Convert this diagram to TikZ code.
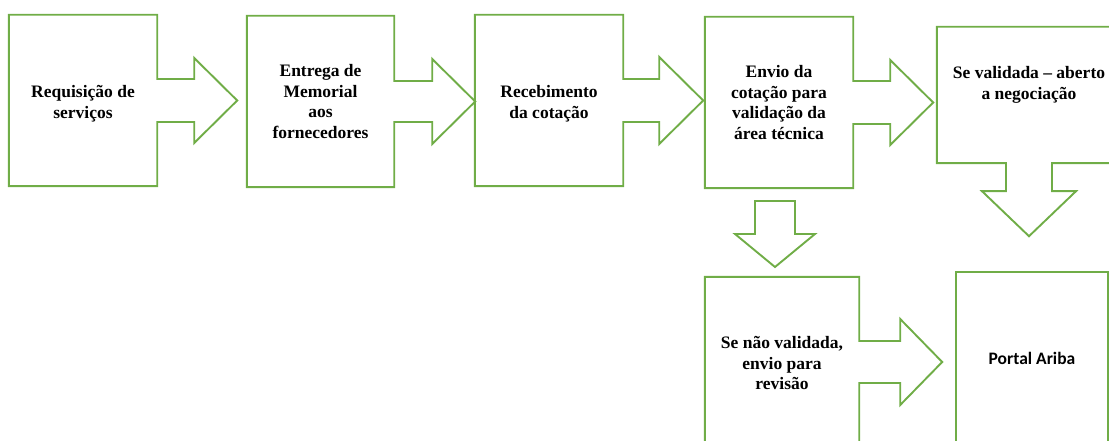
\documentclass[tikz,border=0pt]{standalone}
\usepackage{fontspec}
\setmainfont{Liberation Serif}
\newfontfamily\portalfont{Carlito}
\usepackage{tikz}
\usetikzlibrary{calc}
\definecolor{stagegreen}{RGB}{112,173,71}

\begin{document}
\begin{tikzpicture}[x=1pt,y=-1pt,
	stage/.style={minimum width=148pt, minimum height=171pt, inner sep=0pt, align=center,
		font=\fontsize{17.5}{20.9}\selectfont\bfseries},
	outline/.style={draw=stagegreen, line width=1.9pt, line join=miter}]
	\useasboundingbox (0,0) rectangle (1109,441);
	\clip (0,0) rectangle (1109,441);
	\node [stage] (req) at (83,100.5) {\rule{0pt}{18pt}Requisição de\\serviços};
	\node [stage, minimum width=147pt] (memo) at (320.5,101.5) {Entrega de\\Memorial\\aos\\fornecedores};
	\node [stage] (quote) at (549,100.5) {\rule{0pt}{18pt}Recebimento\\da cotação};
	\node [stage] (env) at (779,102.5) {Envio da\\cotação para\\validação da\\área técnica};
	\node [stage, minimum width=184pt, minimum height=136pt] (val) at (1029,95) {};
	\node [stage, minimum width=0pt, minimum height=0pt] (valtxt) at (1029,85) {Se validada -- aberto\\a negociação};
	\node [stage, minimum width=154pt, minimum height=172pt] (rev) at (782,363) {Se não validada,\\envio para\\revisão};
	\node [stage, minimum width=152pt, minimum height=172pt, font=\fontsize{17.5}{20.9}\portalfont\bfseries] (ariba) at (1032,358) {Portal Ariba};
	\draw [outline] (req.north west) -- (req.north east) -- ($(req.east)+(0,-21.5)$) -- ++(37,0) -- ++(0,-21) -- ++(43,42.5) -- ++(-43,42.5) -- ++(0,-21) -- ++(-37,0) -- (req.south east) -- (req.south west) -- cycle;
	\draw [outline] (memo.north west) -- (memo.north east) -- ($(memo.east)+(0,-20.5)$) -- ++(38,0) -- ++(0,-22) -- ++(43,42.5) -- ++(-43,42.5) -- ++(0,-22) -- ++(-38,0) -- (memo.south east) -- (memo.south west) -- cycle;
	\draw [outline] (quote.north west) -- (quote.north east) -- ($(quote.east)+(0,-21.5)$) -- ++(36,0) -- ++(0,-22) -- ++(44,43.5) -- ++(-44,43.5) -- ++(0,-22) -- ++(-36,0) -- (quote.south east) -- (quote.south west) -- cycle;
	\draw [outline] (env.north west) -- (env.north east) -- ($(env.east)+(0,-21.5)$) -- ++(37,0) -- ++(0,-21) -- ++(43,42.5) -- ++(-43,42.5) -- ++(0,-21) -- ++(-37,0) -- (env.south east) -- (env.south west) -- cycle;
	\draw [outline] (val.south west) -- (val.north west) -- (val.north east) -- (val.south east) -- ($(val.south)+(23,0)$) -- ++(0,28) -- ++(24,0) -- ++(-47,45) -- ++(-47,-45) -- ++(24,0) -- ++(0,-28) -- cycle;
	\draw [outline] (755,201) -- (795,201) -- (795,234) -- (815,234) -- (775,267) -- (735,234) -- (755,234) -- cycle;
	\draw [outline] (rev.south west) -- (rev.north west) -- (rev.north east) -- ($(rev.east)+(0,-22)$) -- ++(41,0) -- ++(0,-22) -- ++(42,43) -- ++(-42,43) -- ++(0,-22) -- ++(-41,0) -- (rev.south east);
	\draw [outline] (ariba.south west) -- (ariba.north west) -- (ariba.north east) -- (ariba.south east);
\end{tikzpicture}
\end{document}
